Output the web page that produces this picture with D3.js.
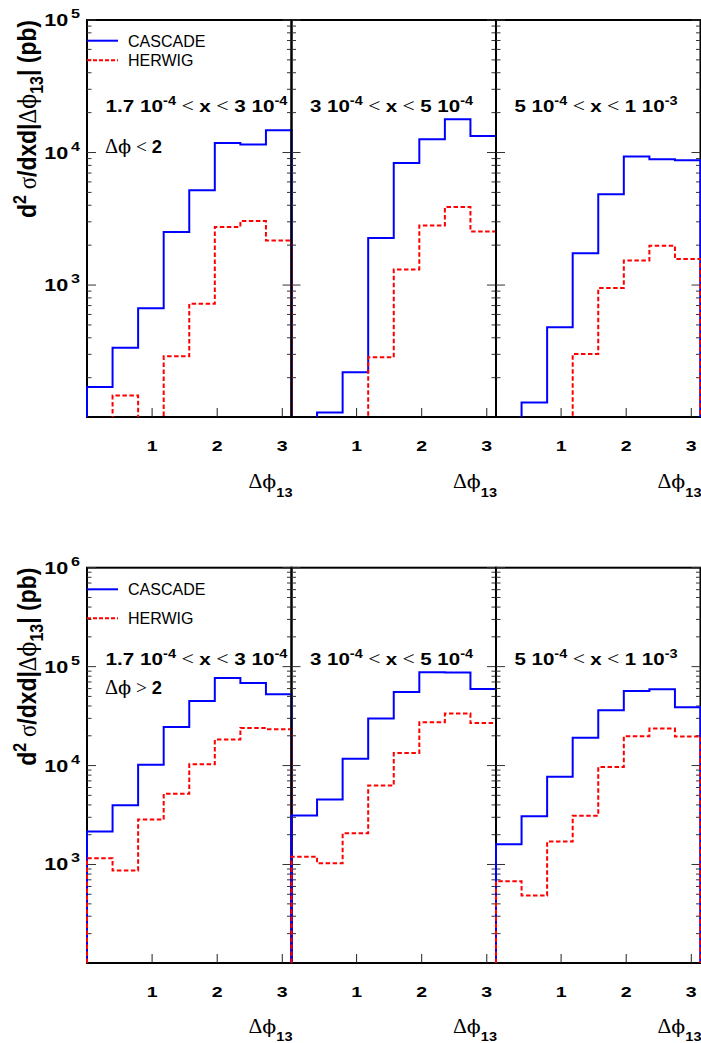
<!DOCTYPE html>
<html>
<head>
<meta charset="utf-8">
<script src="https://cdn.jsdelivr.net/npm/d3@7"></script>
<style>
    body { margin: 0; background: #fff; }
    svg { display: block; }
    text { white-space: pre; }
</style>
</head>
<body>
<svg id="mainsvg" width="701" height="1043"></svg>
<script>
// bin edges in delta phi_13, 8 bins of pi/8
const binEdges = [0, 0.3927, 0.7854, 1.1781, 1.5708, 1.9635, 2.3562, 2.7489, 3.1416];
const xTicks = [1, 2, 3];

// x bin labels, pieces: plain, superscript, plain ...
const xBinLabels = [
    ["1.7 10", "-4", " < ", "x", " < ", "3 10", "-4"],
    ["3 10", "-4", " < ", "x", " < ", "5 10", "-4"],
    ["5 10", "-4", " < ", "x", " < ", "1 10", "-3"]
];
const seriesNames = ["CASCADE", "HERWIG"];

// delta phi < 2 (0 = below the axis range)
const cascadeLow1 = [170, 336, 669, 2510, 5190, 11800, 11500, 14700];
const herwigLow1  = [0, 147, 0, 290, 722, 2740, 3040, 2170];
const cascadeLow2 = [0, 109, 220, 2260, 8350, 12600, 17800, 13300];
const herwigLow2  = [0, 0, 0, 285, 1310, 2820, 3880, 2540];
const cascadeLow3 = [0, 130, 481, 1740, 4840, 9330, 8900, 8740];
const herwigLow3  = [0, 0, 0, 302, 948, 1535, 1980, 1570];

// delta phi > 2
const cascadeHigh1 = [2155, 3980, 10200, 24500, 45000, 76900, 68400, 52600];
const herwigHigh1  = [1157, 868, 2850, 5190, 10300, 18300, 24000, 23300];
const cascadeHigh2 = [3130, 4545, 11700, 29900, 55500, 87800, 87000, 59500];
const herwigHigh2  = [1200, 1030, 2070, 6300, 13400, 27400, 33500, 26900];
const cascadeHigh3 = [1600, 3080, 7710, 19150, 36200, 56800, 59100, 38850];
const herwigHigh3  = [676, 485, 1707, 3110, 9660, 19760, 23650, 19650];

const SANS = "'Liberation Sans', Arial, sans-serif";
const SERIF = "'Liberation Serif', 'DejaVu Serif', serif";
const PHI = "'DejaVu Serif', serif";
const BLUE = "#0000ff", RED = "#ff0000";

let svg = d3.select("#mainsvg");
let panelX = [87, 291.5, 496];
let panelW = 204.5;
let xScale = d3.scaleLinear().domain([0, Math.PI]).range([0, panelW]);

let rows = [
    {top: 20, bottom: 417, min: 101, max: 1e5, cascade: [cascadeLow1, cascadeLow2, cascadeLow3],
     herwig: [herwigLow1, herwigLow2, herwigLow3], cut: "<", labelY: 111.7, cutY: 152.5,
     legY: [40.7, 60.3], tickLabelY: 451, titleY: 488, subY: 9},
    {top: 567.7, bottom: 963, min: 101, max: 1e6, cascade: [cascadeHigh1, cascadeHigh2, cascadeHigh3],
     herwig: [herwigHigh1, herwigHigh2, herwigHigh3], cut: ">", labelY: 665, cutY: 694,
     legY: [589.3, 618.3], tickLabelY: 997, titleY: 1033, subY: 8}
];

// text made of pieces with own font / super / subscript
function rich(g, x, y, parts, opt) {
    opt = opt || {};
    let t = g.append("text")
        .attr("x", x).attr("y", y)
        .attr("text-anchor", opt.anchor || "start")
        .attr("fill", "#000");
    if (opt.len) t.attr("textLength", opt.len).attr("lengthAdjust", "spacingAndGlyphs");
    let shift = 0;
    parts.forEach(p => {
        let want = p.sup ? -p.sup : (p.sub ? p.sub : 0);
        let s = t.append("tspan").text(p.t)
            .attr("font-family", p.font || (p.serif ? SERIF : SANS))
            .attr("font-weight", p.bold ? "bold" : "normal")
            .attr("font-size", p.size)
            .attr("dy", want - shift);
        if (p.dx) s.attr("dx", p.dx);
        shift = want;
    });
    return t;
}

// delta phi written with the straight phi
function dphi(size) {
    return [{t: "Δ", serif: true, size: size}, {t: "ϕ", font: PHI, size: size - 1}];
}

function binLabelParts(pieces) {
    return pieces.map(s => {
        if (s === "-4" || s === "-3") return {t: s, bold: true, size: 12, sup: 7};
        if (s.indexOf("<") >= 0) return {t: s, serif: true, size: 18};
        return {t: s, bold: true, size: 17};
    });
}

function histPath(values, yPix, bottom) {
    let pts = [[binEdges[0], bottom]];
    values.forEach((v, i) => pts.push([binEdges[i], yPix(v)]));
    pts.push([binEdges[binEdges.length - 1], bottom]);
    return d3.line().x(d => xScale(d[0])).y(d => d[1]).curve(d3.curveStepAfter)(pts);
}

let defs = svg.append("defs");

rows.forEach((row, r) => {
    let yScale = d3.scaleLog().domain([row.min, row.max]).range([row.bottom, row.top]);
    let yPix = v => v > row.min ? yScale(v) : row.bottom + 10;
    let ticks = yScale.ticks();
    let isMajor = v => Math.abs(Math.log10(v) - Math.round(Math.log10(v))) < 1e-6;
    let h = row.bottom - row.top;

    panelX.forEach((x0, c) => {
        let g = svg.append("g").attr("transform", `translate(${x0},0)`);

        g.append("rect")
            .attr("x", 0).attr("y", row.top)
            .attr("width", panelW).attr("height", h)
            .attr("fill", "none").attr("stroke", "#000").attr("stroke-width", 2);

        // y ticks on both sides
        g.selectAll(".ytick").data(ticks).enter()
            .append("path")
            .attr("class", "ytick")
            .attr("d", d => {
                let len = isMajor(d) ? 9 : 4.5;
                let y = yScale(d);
                return `M0,${y}h${len}M${panelW},${y}h${-len}`;
            })
            .attr("stroke", "#333").attr("stroke-width", 1);

        // x ticks
        g.selectAll(".xtick").data(xTicks).enter()
            .append("path")
            .attr("class", "xtick")
            .attr("d", d => `M${xScale(d)},${row.bottom}v-9`)
            .attr("stroke", "#222").attr("stroke-width", 1);

        let clipId = "clip" + r + c;
        defs.append("clipPath").attr("id", clipId)
            .append("rect")
            .attr("x", x0 - 1.5).attr("y", row.top)
            .attr("width", panelW + 3).attr("height", h);

        let hg = svg.append("g").attr("clip-path", `url(#${clipId})`)
            .append("g").attr("transform", `translate(${x0},0)`);
        hg.append("path")
            .attr("d", histPath(row.cascade[c], yPix, row.bottom))
            .attr("fill", "none").attr("stroke", BLUE).attr("stroke-width", 2);
        hg.append("path")
            .attr("d", histPath(row.herwig[c], yPix, row.bottom))
            .attr("fill", "none").attr("stroke", RED).attr("stroke-width", 2)
            .attr("stroke-dasharray", "4.5,2.5");

        // x tick labels
        xTicks.forEach(v => {
            g.append("g")
                .attr("transform", `translate(${xScale(v)},${row.tickLabelY}) scale(1.35,1)`)
                .append("text")
                .attr("text-anchor", "middle")
                .attr("font-family", SANS).attr("font-weight", "bold").attr("font-size", 14.5)
                .text(v);
        });

        // x axis title
        rich(g, panelW + 1, row.titleY, dphi(20).concat([
            {t: "13", bold: true, size: 13.5, sub: row.subY}
        ]), {anchor: "end", len: 44});

        // x bin label
        rich(g, 18.5, row.labelY, binLabelParts(xBinLabels[c]), {len: c === 0 ? 182 : 163});

        if (c === 0) {
            rich(g, 18, row.cutY, dphi(20).concat([
                {t: " " + row.cut + " ", serif: true, size: 19},
                {t: "2", bold: true, size: 18}
            ]), {len: 57});

            // legend
            row.legY.forEach((ly, i) => {
                g.append("path")
                    .attr("d", `M0,${ly}h31`)
                    .attr("stroke", i === 0 ? BLUE : RED).attr("stroke-width", 2)
                    .attr("stroke-dasharray", i === 0 ? null : "4,2");
                g.append("text")
                    .attr("x", 41).attr("y", ly + 6)
                    .attr("font-family", SANS).attr("font-size", 16)
                    .text(seriesNames[i]);
            });

            // y tick labels
            ticks.filter(isMajor).forEach(v => {
                let ex = String(Math.round(Math.log10(v)));
                let lg = svg.append("g")
                    .attr("transform", `translate(80,${yScale(v) + 6}) scale(1.35,1)`);
                rich(lg, 0, 0, [
                    {t: "10", bold: true, size: 16},
                    {t: ex, bold: true, size: 12, sup: 8, dx: 2}
                ], {anchor: "end"});
            });
        }
    });

    // y axis title
    let tg = svg.append("g")
        .attr("transform", `translate(36,${row.top}) scale(1.3,1) rotate(-90)`);
    rich(tg, 0, 0, [
        {t: "d", bold: true, size: 20},
        {t: "2", bold: true, size: 14, sup: 8},
        {t: " σ", serif: true, size: 20},
        {t: "/dxd|", bold: true, size: 20},
        {t: "Δ", serif: true, size: 20},
        {t: "ϕ", font: PHI, size: 19},
        {t: "13", bold: true, size: 14, sub: 5},
        {t: "| (pb)", bold: true, size: 20}
    ], {anchor: "end", len: 198});
});
</script>
</body>
</html>
